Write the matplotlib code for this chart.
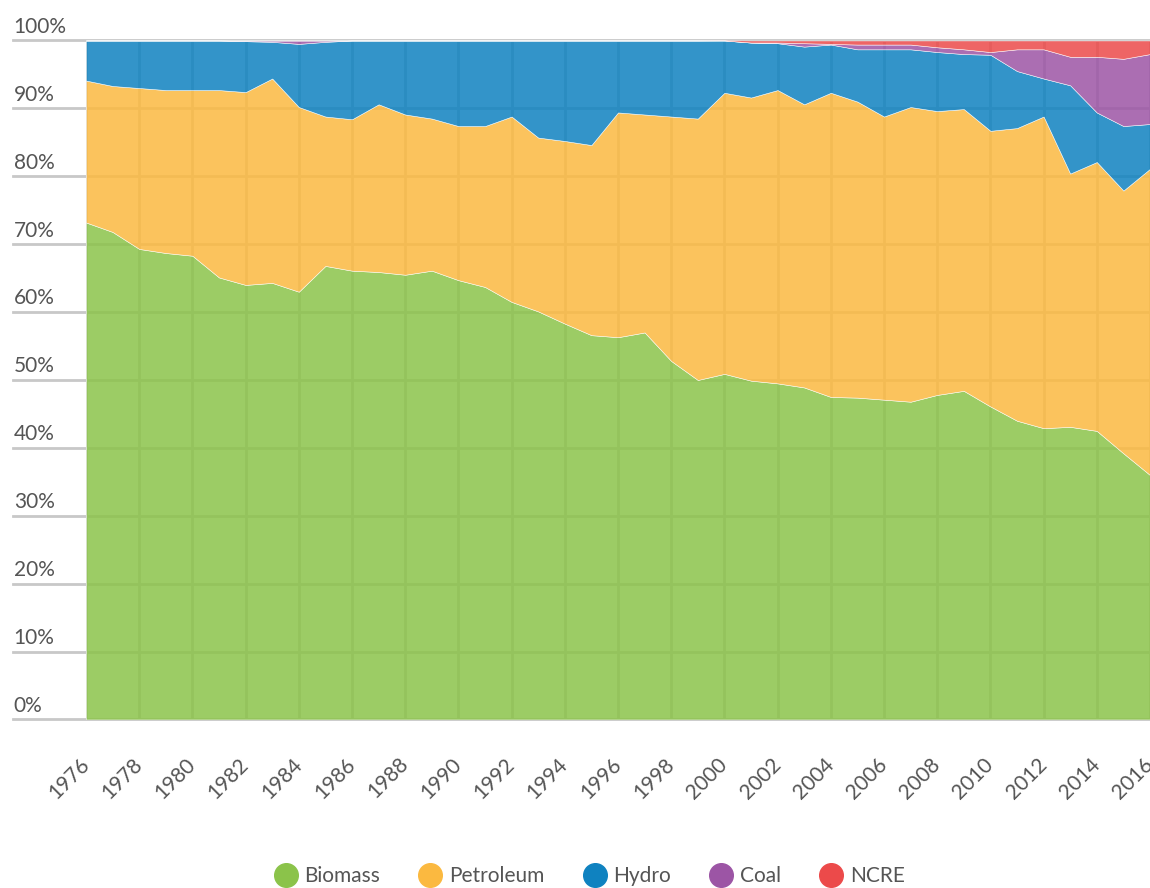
import matplotlib
matplotlib.use("Agg")
import matplotlib.pyplot as plt
import matplotlib.transforms as mtransforms
from matplotlib.lines import Line2D

years = list(range(1976, 2017))

biomass = [73.2, 71.8, 69.3, 68.7, 68.3, 65.1, 64.0, 64.3, 63.0, 66.8,
           66.1, 65.9, 65.5, 66.1, 64.7, 63.7, 61.5, 60.1, 58.3, 56.6,
           56.3, 57.0, 52.8, 50.0, 50.9, 49.9, 49.5, 48.9, 47.5, 47.4,
           47.1, 46.8, 47.8, 48.4, 46.1, 44.0, 42.9, 43.1, 42.5, 39.2, 36.0]
petroleum = [20.9, 21.5, 23.7, 24.0, 24.4, 27.6, 28.4, 30.1, 27.2, 22.0,
             22.3, 24.7, 23.6, 22.4, 22.7, 23.7, 27.3, 25.6, 26.9, 28.0,
             33.1, 32.1, 36.0, 38.5, 41.4, 41.7, 43.2, 41.7, 44.8, 43.6,
             41.7, 43.4, 41.8, 41.5, 40.6, 43.1, 45.9, 37.3, 39.6, 38.7, 45.1]
hydro = [5.9, 6.7, 7.0, 7.3, 7.3, 7.3, 7.5, 5.4, 9.3, 11.0,
         11.6, 9.4, 10.9, 11.5, 12.6, 12.6, 11.2, 14.3, 14.8, 15.4,
         10.6, 10.9, 11.2, 11.5, 7.7, 8.1, 6.9, 8.5, 7.1, 7.7,
         9.9, 8.5, 8.7, 8.1, 11.2, 8.4, 5.6, 13.0, 7.3, 9.5, 6.6]
coal = [0, 0, 0, 0, 0, 0, 0.1, 0.2, 0.5, 0.2,
        0, 0, 0, 0, 0, 0, 0, 0, 0, 0,
        0, 0, 0, 0, 0, 0, 0.1, 0.5, 0.1, 0.7,
        0.7, 0.7, 0.7, 0.7, 0.4, 3.2, 4.3, 4.2, 8.2, 9.9, 10.3]
ncre = [0, 0, 0, 0, 0, 0, 0, 0, 0, 0,
        0, 0, 0, 0, 0, 0, 0, 0, 0, 0,
        0, 0, 0, 0, 0.05, 0.3, 0.3, 0.4, 0.5, 0.6,
        0.6, 0.6, 1.0, 1.3, 1.7, 1.3, 1.3, 2.4, 2.4, 2.7, 2.0]

names = ["Biomass", "Petroleum", "Hydro", "Coal", "NCRE"]
colors = ["#8bc34a", "#fbb940", "#0f82c0", "#9c55a5", "#ec4a4a"]
xticks = list(range(1976, 2017, 2))
yticks = list(range(0, 101, 10))

plt.rcParams["font.family"] = ["Lato", "DejaVu Sans"]
txt = "#555555"
grid = "#c8c8c8"

fig = plt.figure(figsize=(11.5, 8.88), dpi=100)
ax = fig.add_axes([0.0748, 0.1898, 0.9252, 0.7646])

ax.stackplot(years, biomass, petroleum, hydro, coal, ncre,
             colors=colors, alpha=0.85, edgecolor="white", linewidth=0.4, zorder=2)

for x in xticks:
    ax.axvline(x, color=grid, lw=2, zorder=1)
for v in yticks:
    ax.axhline(v, xmin=-0.069, xmax=1, color=grid, lw=2, zorder=1, clip_on=False)

ax.set_xlim(1976, 2016)
ax.set_ylim(0, 100)
for s in ax.spines.values():
    s.set_visible(False)
ax.set_yticks([])
ax.set_xticks(xticks)
ax.set_xticklabels([str(y) for y in xticks], rotation=45, ha="right", va="center",
                   rotation_mode="anchor", fontsize=15, color=txt)
ax.tick_params(axis="x", length=0, pad=30)

ytrans = mtransforms.offset_copy(ax.get_yaxis_transform(), fig=fig, y=5.5, units="points")
for v in yticks:
    ax.text(-0.068, v, f"{v}%", transform=ytrans, ha="left", va="baseline",
            fontsize=15, color=txt, clip_on=False)

handles = [Line2D([], [], marker="o", linestyle="none", markersize=17,
                  markerfacecolor=c, markeredgecolor=c) for c in colors]
fig.legend(handles, names, loc="center", bbox_to_anchor=(0.513, 0.013), ncol=5,
           frameon=False, fontsize=15, labelcolor=txt, handletextpad=0.4,
           columnspacing=1.9, handlelength=1.0)

fig.savefig("out.png", dpi=100)
